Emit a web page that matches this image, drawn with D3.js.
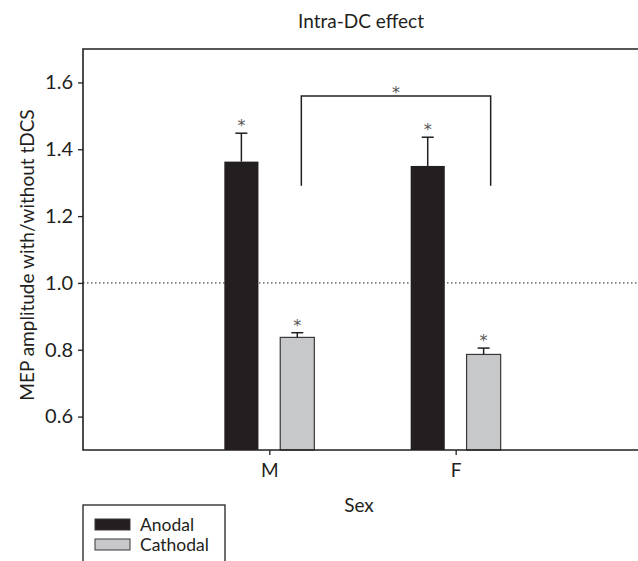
<!DOCTYPE html>
<html>
<head>
<meta charset="utf-8">
<script src="https://cdn.jsdelivr.net/npm/d3@7/dist/d3.min.js"></script>
<style>
  body { margin: 0; background: #fff; }
  svg { display: block; font-family: Lato, "Open Sans", sans-serif; }
</style>
</head>
<body>
<svg id="chart" width="638" height="561"></svg>
<script>
// data
var sexes = ["M", "F"];
var stimTypes = ["Anodal", "Cathodal"];
var anodalMeans = [1.363, 1.350];
var anodalErr = [0.085, 0.086];
var cathodalMeans = [0.837, 0.786];
var cathodalErr = [0.014, 0.019];
var yTicks = [0.6, 0.8, 1.0, 1.2, 1.4, 1.6];
var bracketTop = 1.559, bracketBottom = 1.291;

var colors = { Anodal: "#231f20", Cathodal: "#c7c8ca" };
var ink = "#231f20";

var svg = d3.select("#chart");
var plotLeft = 83, plotTop = 49, plotRight = 642, plotBottom = 450;

var y = d3.scaleLinear().domain([0.5, 1.7]).range([plotBottom, plotTop]);
var x = d3.scalePoint().domain(sexes).range([plotLeft, plotRight]).padding(1);
var xInner = d3.scaleBand().domain(stimTypes).range([-45, 45]).paddingInner(0.39);

var rows = [];
sexes.forEach(function(s, i) {
    rows.push({ sex: s, type: "Anodal", value: anodalMeans[i], err: anodalErr[i] });
    rows.push({ sex: s, type: "Cathodal", value: cathodalMeans[i], err: cathodalErr[i] });
});

// title
svg.append("text")
    .attr("x", 361).attr("y", 28)
    .attr("text-anchor", "middle")
    .attr("font-size", 19)
    .attr("fill", ink)
    .text("Intra-DC effect");

// reference line at 1.0
svg.append("line")
    .attr("x1", plotLeft).attr("x2", 638)
    .attr("y1", y(1)).attr("y2", y(1))
    .attr("stroke", ink).attr("stroke-width", 1)
    .attr("stroke-dasharray", "1.5,2.5");

// bars
var barG = svg.append("g");
barG.selectAll("rect")
    .data(rows)
    .enter().append("rect")
    .attr("x", function(d) { return x(d.sex) + xInner(d.type); })
    .attr("width", xInner.bandwidth())
    .attr("y", function(d) { return y(d.value); })
    .attr("height", function(d) { return plotBottom - y(d.value); })
    .attr("fill", function(d) { return colors[d.type]; })
    .attr("stroke", function(d) { return d.type == "Cathodal" ? "#3a3738" : "none"; })
    .attr("stroke-width", 1.2);

// error bars (upper only) + significance stars
var errG = svg.append("g").attr("stroke", ink).attr("stroke-width", 1.5);
rows.forEach(function(d) {
    var cx = x(d.sex) + xInner(d.type) + xInner.bandwidth() / 2;
    errG.append("line")
        .attr("x1", cx).attr("x2", cx)
        .attr("y1", y(d.value)).attr("y2", y(d.value + d.err));
    errG.append("line")
        .attr("x1", cx - 6).attr("x2", cx + 6)
        .attr("y1", y(d.value + d.err)).attr("y2", y(d.value + d.err));
    svg.append("text")
        .attr("x", cx).attr("y", y(d.value + d.err) - 2)
        .attr("text-anchor", "middle")
        .attr("font-size", 16)
        .attr("font-family", "DejaVu Sans")
        .attr("fill", "#555")
        .text("*");
});

// significance bracket between sexes
var bl = x("M") + 32, br = x("F") + 35;
svg.append("path")
    .attr("d", "M" + bl + "," + y(bracketBottom) + "V" + y(bracketTop) + "H" + br + "V" + y(bracketBottom))
    .attr("fill", "none").attr("stroke", ink).attr("stroke-width", 1.5);
svg.append("text")
    .attr("x", (bl + br) / 2).attr("y", y(bracketTop) + 2)
    .attr("text-anchor", "middle")
    .attr("font-size", 16)
    .attr("font-family", "DejaVu Sans")
    .attr("fill", "#555")
    .text("*");

// frame
svg.append("path")
    .attr("d", "M640," + plotTop + "H" + plotLeft + "V" + plotBottom + "H640")
    .attr("fill", "none").attr("stroke", ink).attr("stroke-width", 1.6);

// y axis
var yAxis = d3.axisLeft(y).tickValues(yTicks).tickSize(5).tickPadding(5)
    .tickFormat(d3.format(".1f"));
var yg = svg.append("g").attr("transform", "translate(" + plotLeft + ",0)").call(yAxis);
yg.select(".domain").remove();
yg.selectAll(".tick line").attr("stroke", ink).attr("stroke-width", 1.3);
yg.selectAll(".tick text").attr("font-size", 20).attr("fill", ink)
    .attr("font-family", "Lato, sans-serif");

// x axis
var xAxis = d3.axisBottom(x).tickSize(5).tickPadding(9);
var xg = svg.append("g").attr("transform", "translate(0," + plotBottom + ")").call(xAxis);
xg.select(".domain").remove();
xg.selectAll(".tick line").attr("stroke", ink).attr("stroke-width", 1.3);
xg.selectAll(".tick text").attr("font-size", 19).attr("fill", ink)
    .attr("font-family", "Lato, sans-serif");

// axis titles
svg.append("text")
    .attr("x", 359).attr("y", 512)
    .attr("text-anchor", "middle")
    .attr("font-size", 19).attr("fill", ink)
    .text("Sex");
svg.append("text")
    .attr("transform", "translate(34,255) rotate(-90)")
    .attr("text-anchor", "middle")
    .attr("font-size", 19).attr("fill", ink)
    .text("MEP amplitude with/without tDCS");

// legend
var legend = svg.append("g").attr("transform", "translate(83,505)");
legend.append("rect")
    .attr("width", 142).attr("height", 70)
    .attr("fill", "#fff").attr("stroke", ink).attr("stroke-width", 1.3);
var items = legend.selectAll(".item")
    .data(stimTypes)
    .enter().append("g")
    .attr("transform", function(d, i) { return "translate(12," + (14 + i * 20) + ")"; });
items.append("rect")
    .attr("width", 35).attr("height", 11)
    .attr("fill", function(d) { return colors[d]; })
    .attr("stroke", "#3a3738").attr("stroke-width", 1);
items.append("text")
    .attr("x", 45).attr("y", 12)
    .attr("font-size", 17.5).attr("fill", ink)
    .text(function(d) { return d; });
</script>
</body>
</html>
